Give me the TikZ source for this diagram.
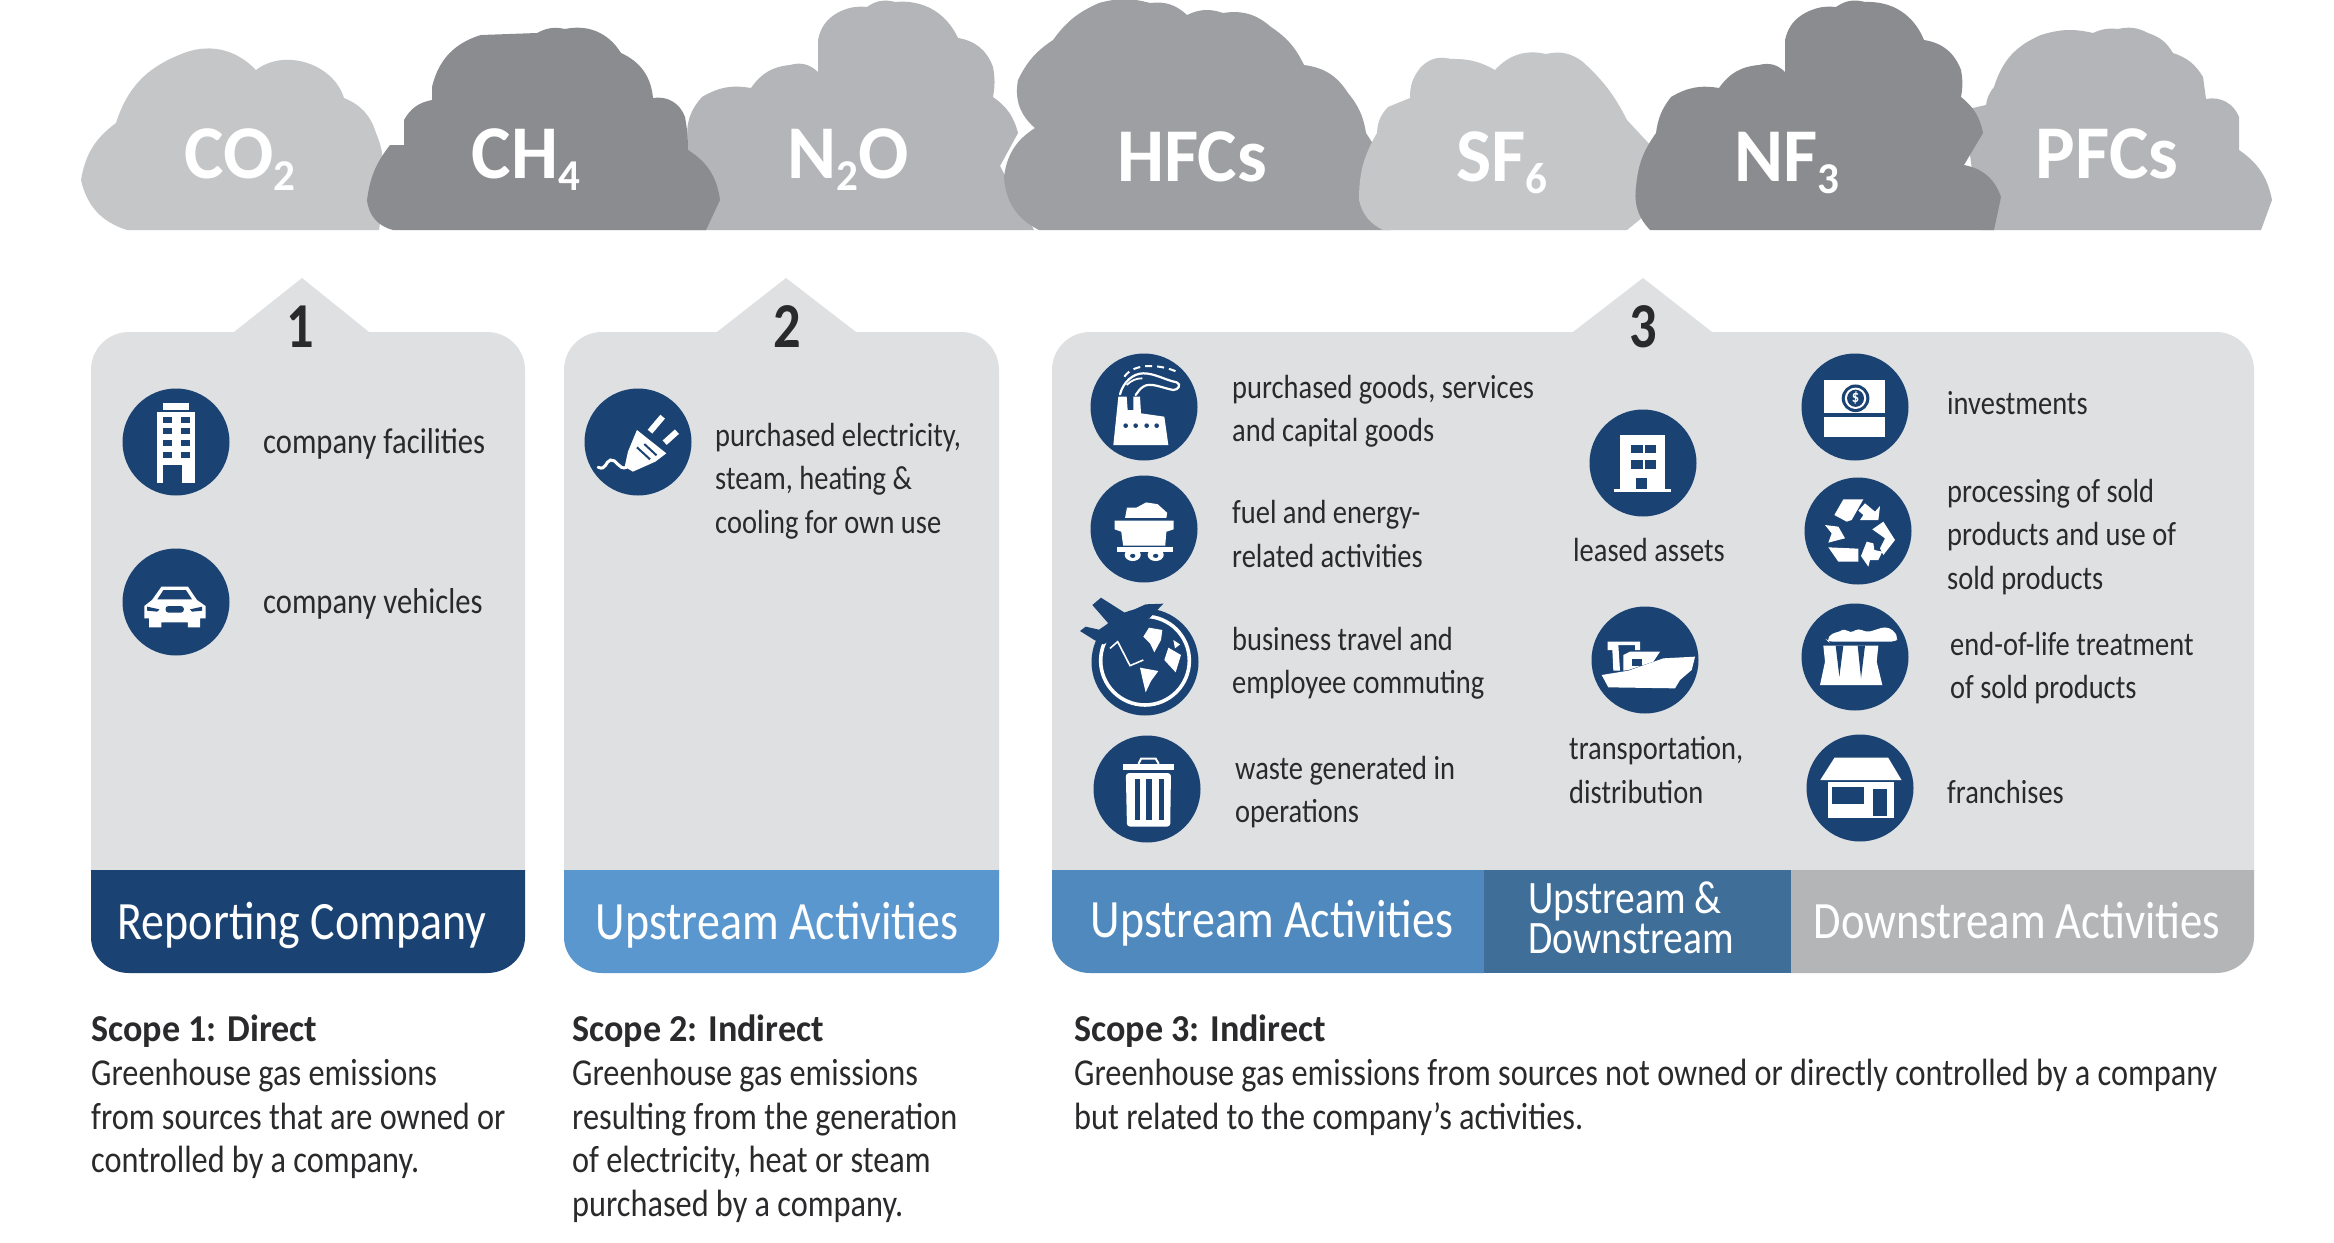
\documentclass[tikz,border=0pt]{standalone}
\usepackage{fontspec}
\setmainfont[FakeStretch=0.85]{Carlito}
\newfontfamily\cloudfont[FakeStretch=0.98]{Carlito}
\newfontfamily\scopebold[FakeStretch=0.95]{Carlito}
\definecolor{navy}{HTML}{1A4373}
\definecolor{panelgray}{HTML}{DEE0E2}
\definecolor{inkc}{HTML}{2A2A2C}
\definecolor{bluelight}{HTML}{5B97CF}
\definecolor{blueup}{HTML}{4F89BD}
\definecolor{bluemid}{HTML}{3F6F99}
\definecolor{graydown}{HTML}{B3B5B7}
\definecolor{cA}{HTML}{C4C6C8}
\definecolor{cB}{HTML}{8A8C8F}
\definecolor{cC}{HTML}{B3B5B8}
\definecolor{cD}{HTML}{9D9FA2}
\newcommand{\lowdig}[1]{\raisebox{-12pt}{\fontsize{44}{44}\selectfont #1}}
\newcommand{\scopehead}[1]{{\scopebold\bfseries #1}}
\newcommand{\paneltop}[5]{(#1,875) -- (#1,370) .. controls (#1,349) and ({#1+17},332) .. ({#1+38},332) -- (#3,332) -- (#4,278) -- (#5,332) -- ({#2-38},332) .. controls ({#2-17},332) and (#2,349) .. (#2,370) -- (#2,875) -- cycle}
\newcommand{\bandshape}[2]{(#1,870) -- (#1,937) .. controls (#1,957) and ({#1+17},973) .. ({#1+38},973) -- ({#2-38},973) .. controls ({#2-17},973) and (#2,957) .. (#2,937) -- (#2,870) -- cycle}
\tikzset{
 bl/.style={bend left=#1},
 ico/.style={circle,fill=navy,minimum size=107pt,inner sep=0pt},
 lbl/.style={anchor=west,inner sep=0pt,align=left,text=inkc,font=\fontsize{33.5}{43.5}\selectfont},
 lblwide/.style={lbl,font=\fontsize{36}{43.5}\selectfont},
 desc/.style={anchor=north west,inner sep=0pt,align=left,text=inkc,font=\fontsize{38}{43.7}\selectfont},
 bandtxt/.style={anchor=base,inner sep=0pt,text=white,font=\fontsize{54}{54}\selectfont},
 cloudtxt/.style={anchor=base,inner sep=0pt,text=white,font=\cloudfont\bfseries\fontsize{76}{76}\selectfont},
 numtxt/.style={anchor=base,inner sep=0pt,text=inkc,font=\bfseries\fontsize{64}{64}\selectfont},
 w/.style={fill=white,draw=none},
 n/.style={fill=navy,draw=none},
 zA/.style={shift={(90,370)},x=0.40816pt,y=-0.33333pt},
 zB/.style={shift={(1060,330)},x=0.38265pt,y=-0.34483pt},
 zC/.style={shift={(1560,330)},x=0.44643pt,y=-0.34483pt},
}
\begin{document}
\begin{tikzpicture}[x=1pt,y=-1pt]
\useasboundingbox (0,0) rectangle (2334,1242);
\fill[white] (0,0) rectangle (2334,1242);
% clouds
\fill[cA] (127,230) to[bl=30] (81,180) to[bl=22] (116,123) to[bl=25] (179,55) to[bl=35] (256,70) to[bl=55] (344,98) to[bl=25] (376,133) to[bl=8] (383,160) to[bl=5] (379,230) -- cycle;
\fill[cC] (680,230) -- (688,143) to[bl=25] (702,97) to[bl=20] (751,88) to[bl=25] (790,65) to[bl=30] (818,72) -- (818,40) to[bl=25] (839,12) to[bl=15] (867,7) to[bl=25] (895,2) to[bl=35] (958,38) to[bl=30] (993,67) to[bl=10] (993,97) to[bl=20] (1018,133) -- (1000,166) -- (1034,230) -- cycle;
\fill[cB] (393,230) to[bl=35] (367,200) to[bl=15] (390,145) -- (404,145) -- (404,120) to[bl=25] (432,100) -- (432,87) to[bl=30] (481,35) -- (537,33) to[bl=20] (565,29) to[bl=35] (621,53) to[bl=30] (653,98) to[bl=40] (685,117) to[bl=5] (688,150) to[bl=25] (720,200) -- (706,230) -- cycle;
\fill[cD] (1039,230) to[bl=30] (1004,177) to[bl=25] (1035,128) to[bl=30] (1018,80) to[bl=15] (1053,40) to[bl=15] (1099,3) to[bl=15] (1150,3) to[bl=25] (1187,15) to[bl=22] (1223,13) to[bl=25] (1271,27) to[bl=15] (1304,65) to[bl=25] (1348,93) to[bl=15] (1366,133) -- (1377,150) -- (1390,230) -- cycle;
\fill[cA] (1383,230) to[bl=25] (1359,200) to[bl=15] (1377,133) to[bl=20] (1388,107) -- (1410,98) to[bl=20] (1421,67) to[bl=30] (1451,59) to[bl=15] (1495,70) to[bl=30] (1546,54) to[bl=25] (1583,62) to[bl=10] (1627,120) -- (1652,147) -- (1643,217) -- (1627,230) -- cycle;
\fill[cC] (1980,230) -- (1964,110) -- (1986,105) to[bl=15] (1994,87) to[bl=25] (2041,35) to[bl=15] (2093,33) to[bl=15] (2118,29) to[bl=20] (2148,33) to[bl=20] (2173,53) to[bl=20] (2203,77) -- (2206,99) to[bl=40] (2239,117) -- (2239,150) to[bl=22] (2272,200) -- (2261,230) -- cycle;
\fill[cB] (1650,230) to[bl=25] (1636,187) to[bl=15] (1656,133) to[bl=15] (1671,97) to[bl=20] (1719,88) to[bl=25] (1759,65) to[bl=30] (1785,72) -- (1785,40) to[bl=25] (1807,12) to[bl=15] (1836,7) to[bl=25] (1865,2) to[bl=35] (1924,40) to[bl=30] (1961,70) to[bl=10] (1961,97) to[bl=20] (1983,133) -- (1964,165) to[bl=30] (2001,197) -- (1994,230) -- cycle;
\node[cloudtxt] (gas1) at (240,178) {CO\lowdig{2}};
\node[cloudtxt] (gas2) at (526,178) {CH\lowdig{4}};
\node[cloudtxt] (gas3) at (848,178) {N\lowdig{2}O};
\node[cloudtxt] (gas4) at (1192,181) {HFCs};
\node[cloudtxt] (gas5) at (1502,181) {SF\lowdig{6}};
\node[cloudtxt] (gas6) at (1787,181) {NF\lowdig{3}};
\node[cloudtxt] (gas7) at (2107,178) {PFCs};
% panels
\fill[panelgray] \paneltop{91}{525}{234}{302}{369};
\fill[panelgray] \paneltop{564}{999}{717}{786}{856};
\fill[panelgray] \paneltop{1052}{2254}{1573}{1643}{1712};
% bands
\fill[navy] \bandshape{91}{525};
\fill[bluelight] \bandshape{564}{999};
\fill[blueup] (1052,870) -- (1052,937) .. controls (1052,957) and (1069,973) .. (1090,973) -- (1484,973) -- (1484,870) -- cycle;
\fill[bluemid] (1484,870) rectangle (1791,973);
\fill[graydown] (1791,870) -- (2254,870) -- (2254,937) .. controls (2254,957) and (2237,973) .. (2216,973) -- (1791,973) -- cycle;
\node[bandtxt] (b1) at (302,939) {Reporting Company};
\node[bandtxt] (b2) at (777,939) {Upstream Activities};
\node[bandtxt] (b3) at (1272,937) {Upstream Activities};
\node[anchor=west,inner sep=0pt,align=left,text=white,font=\fontsize{46.5}{39.5}\selectfont] (b4) at (1528,918) {Upstream \&\\Downstream};
\node[bandtxt,font=\fontsize{52.5}{52.5}\selectfont] (b5) at (2017,938) {Downstream Activities};
\node[numtxt] (n1) at (300,347) {1};
\node[numtxt] (n2) at (787,347) {2};
\node[numtxt] (n3) at (1643,347) {3};
% icon circles
\node[ico] (i1) at (176,442) {};
\node[ico] (i2) at (176,602) {};
\node[ico] (i3) at (638,442) {};
\node[ico] (i4) at (1144,407) {};
\node[ico] (i5) at (1144,529) {};
\node[ico] (i6) at (1145,662) {};
\node[ico] (i7) at (1147,789) {};
\node[ico] (i8) at (1643,463) {};
\node[ico] (i9) at (1645,660) {};
\node[ico] (i10) at (1855,407) {};
\node[ico] (i11) at (1858,531) {};
\node[ico] (i12) at (1855,657) {};
\node[ico] (i13) at (1860,788) {};
% building
\begin{scope}[zA]
\fill[w] (178,98) rectangle (243,120);
\fill[w] (163,125) rectangle (258,340);
\foreach \yy in {140,175,210,245}{\fill[n] (178,\yy) rectangle (200,\yy+18);\fill[n] (222,\yy) rectangle (245,\yy+18);}
\fill[n] (178,285) rectangle (225,342);
% car
\fill[w] (175,650) -- (240,650) -- (262,690) -- (283,708) -- (283,745) -- (270,745) -- (270,772) -- (240,772) -- (240,757) -- (175,757) -- (175,772) -- (145,772) -- (145,745) -- (133,745) -- (133,708) -- (152,690) -- cycle;
\fill[n] (180,660) -- (235,660) -- (250,688) -- (165,688) -- cycle;
\fill[n] (140,710) -- (170,718) -- (165,725) -- (140,722) -- cycle;
\fill[n] (275,710) -- (245,718) -- (250,725) -- (275,722) -- cycle;
\fill[n,rounded corners=3pt] (185,708) rectangle (230,728);
% plug
\fill[w] (1340,180) -- (1412,250) -- (1385,275) -- (1330,305) -- (1310,290) -- (1318,245) -- cycle;
\draw[navy,line width=2pt] (1340,232) -- (1372,268);
\draw[navy,line width=2pt] (1358,222) -- (1388,256);
\draw[white,line width=6pt] (1372,185) -- (1403,140);
\draw[white,line width=6pt] (1408,218) -- (1438,185);
\draw[white,line width=3pt,line cap=round] (1315,292) .. controls (1295,302) and (1290,265) .. (1275,270) .. controls (1262,275) and (1265,302) .. (1245,292);
\end{scope}
% zoom 3 icons
\begin{scope}[zB]
% coal cart
\fill[w] (170,545) -- (175,515) -- (200,515) -- (225,500) -- (255,505) -- (280,530) -- (278,545) -- cycle;
\fill[w] (143,553) -- (297,553) -- (297,578) -- (278,585) -- (275,625) -- (165,625) -- (160,585) -- (143,578) -- cycle;
\fill[w] (150,628) rectangle (295,645);
\fill[w] (190,652) ellipse (21 and 18);
\fill[w] (250,652) ellipse (21 and 18);
\fill[n] (190,655) ellipse (7 and 6);
\fill[n] (250,655) ellipse (7 and 6);
% bin
\fill[w] (165,1260) rectangle (298,1276);
\draw[white,line width=2pt] (205,1258) -- (212,1243) -- (250,1243) -- (258,1258);
\fill[w,rounded corners=3pt] (172,1285) -- (290,1285) -- (288,1440) -- (175,1440) -- cycle;
\fill[n] (195,1302) rectangle (210,1422);
\fill[n] (225,1302) rectangle (240,1422);
\fill[n] (258,1302) rectangle (273,1422);
\end{scope}
% factory
\begin{scope}[shift={(1085,345)},x=0.33333pt,y=-0.33333pt]
\fill[w] (85,300) -- (100,155) -- (125,155) -- (128,195) -- (145,195) -- (145,155) -- (165,155) -- (168,205) -- (238,215) -- (250,300) -- cycle;
\foreach \xx in {122,152,185,215}{\fill[n] (\xx,242) circle (7);}
\draw[white,line width=2.2pt,line cap=round] (105,148) .. controls (115,110) and (145,85) .. (175,85) .. controls (210,85) and (240,105) .. (275,112) .. controls (290,118) and (280,135) .. (265,135) .. controls (235,130) and (195,110) .. (175,125) .. controls (165,130) and (160,140) .. (152,150);
\draw[white,line width=1.8pt] (125,120) .. controls (140,105) and (155,100) .. (172,100);
\draw[white,line width=2pt,dash pattern=on 7pt off 5pt] (118,95) .. controls (150,50) and (230,60) .. (275,80);
\end{scope}
% globe and plane
\begin{scope}[shift={(1075,595)},x=0.33333pt,y=-0.33333pt]
\draw[white,line width=3.6pt] (210,197) ellipse (133 and 133);
\fill[w] (222,98) -- (262,105) -- (258,135) -- (238,172) -- (225,145) -- (205,125) -- cycle;
\fill[w] (280,158) -- (318,180) -- (302,232) -- (268,195) -- cycle;
\fill[w] (195,218) -- (250,228) -- (228,258) -- (212,292) -- (202,250) -- cycle;
\fill[w] (295,135) -- (315,148) -- (300,160) -- cycle;
\fill[n] (265,26) -- (225,68) -- (190,88) -- (198,188) -- (165,205) -- (125,128) -- (85,148) -- (58,135) -- (15,108) -- (32,95) -- (72,104) -- (100,85) -- (52,30) -- (78,8) -- (152,55) -- (212,28) -- cycle;
\draw[white,line width=1.6pt] (105,160) -- (128,140) -- (165,212) -- (205,195);
\end{scope}
% zoom 4 icons
\begin{scope}[zC]
% leased
\fill[w] (135,305) rectangle (235,462);
\fill[w] (122,460) rectangle (248,470);
\foreach \xx in {160,190}{\foreach \yy in {333,378}{\fill[n] (\xx,\yy) rectangle (\xx+25,\yy+24);}}
\fill[n] (170,428) rectangle (195,460);
% investment
\fill[w] (592,145) rectangle (728,240);
\fill[w] (592,252) rectangle (728,310);
\fill[n] (662,198) ellipse (31 and 40);
\fill[w] (662,198) ellipse (24 and 31);
\fill[n] (662,198) ellipse (19 and 25);
\node[inner sep=0pt,text=white,font=\bfseries\fontsize{17}{17}\selectfont] (dollar) at (662,198) {\$};
% shop
\fill[w] (583,1305) -- (615,1240) -- (735,1240) -- (765,1305) -- cycle;
\fill[w] (600,1312) rectangle (748,1415);
\fill[n] (610,1325) rectangle (680,1375);
\fill[n] (700,1330) rectangle (733,1410);
\end{scope}
% towers
\begin{scope}[shift={(1795,595)},x=0.33333pt,y=-0.33333pt]
\fill[w,rounded corners=4pt] (95,135) -- (110,115) -- (135,110) -- (150,100) -- (165,115) -- (190,100) -- (215,112) -- (240,105) -- (270,95) -- (295,105) -- (310,130) -- (300,140) -- (100,140) -- cycle;
\fill[w] (85,152) -- (250,152) -- (245,200) -- (262,270) -- (75,270) -- (90,200) -- cycle;
\fill[n] (122,152) -- (145,152) -- (133,245) -- cycle;
\fill[n] (188,152) -- (210,152) -- (198,250) -- cycle;
\end{scope}
% recycle
\begin{scope}[shift={(1795,470)},x=0.33333pt,y=-0.33333pt]
\fill[w] (118,135) -- (145,88) -- (205,88) -- (170,150) -- (155,155) -- cycle;
\fill[w] (190,122) -- (210,100) -- (240,125) -- (255,108) -- (250,150) -- (195,150) -- (205,135) -- cycle;
\fill[w] (232,178) -- (265,155) -- (300,210) -- (265,255) -- (255,235) -- (270,205) -- cycle;
\fill[w] (215,215) -- (198,258) -- (220,290) -- (225,270) -- (250,270) -- (262,245) -- (238,240) -- (235,220) -- cycle;
\fill[w] (100,232) -- (190,236) -- (190,275) -- (130,275) -- cycle;
\fill[w] (90,165) -- (130,170) -- (150,205) -- (130,210) -- (100,218) -- (110,190) -- cycle;
\end{scope}
% ship
\begin{scope}[shift={(1585,600)},x=0.33333pt,y=-0.33333pt]
\fill[w] (115,165) -- (135,155) -- (225,155) -- (205,185) -- (130,210) -- (115,212) -- cycle;
\fill[n] (140,178) rectangle (172,197);
\fill[w] (68,125) -- (165,125) -- (165,150) -- (150,150) -- (150,135) -- (100,135) -- (105,212) -- (85,212) -- (82,150) -- (68,150) -- cycle;
\fill[w] (50,225) -- (130,212) -- (235,175) -- (330,170) -- (320,210) -- (285,240) -- (270,265) -- (70,262) -- cycle;
\end{scope}
% labels
\node[lblwide] (t1) at (263,444) {company facilities};
\node[lblwide] (t2) at (263,604) {company vehicles};
\node[lbl] (t3) at (715,481) {purchased electricity,\\steam, heating \&\\cooling for own use};
\node[lbl] (t4) at (1232,411) {purchased goods, services\\and capital goods};
\node[lbl] (t5) at (1232,534) {fuel and energy-\\related activities};
\node[lbl] (t6) at (1232,663) {business travel and\\employee commuting};
\node[lbl] (t7) at (1235,792) {waste generated in\\operations};
\node[lbl] (t8) at (1573,550) {leased assets};
\node[lbl] (t9) at (1569,770) {transportation,\\distribution};
\node[lbl] (t10) at (1947,403) {investments};
\node[lbl] (t11) at (1947,537) {processing of sold\\products and use of\\sold products};
\node[lbl] (t12) at (1950,668) {end-of-life treatment\\of sold products};
\node[lbl] (t13) at (1947,792) {franchises};
\node[desc] (d1) at (91,1015) {\scopehead{Scope 1: Direct}\\Greenhouse gas emissions\\from sources that are owned or\\controlled by a company.};
\node[desc] (d2) at (572,1015) {\scopehead{Scope 2: Indirect}\\Greenhouse gas emissions\\resulting from the generation\\of electricity, heat or steam\\purchased by a company.};
\node[desc] (d3) at (1074,1015) {\scopehead{Scope 3: Indirect}\\Greenhouse gas emissions from sources not owned or directly controlled by a company\\but related to the company’s activities.};
\end{tikzpicture}
\end{document}
